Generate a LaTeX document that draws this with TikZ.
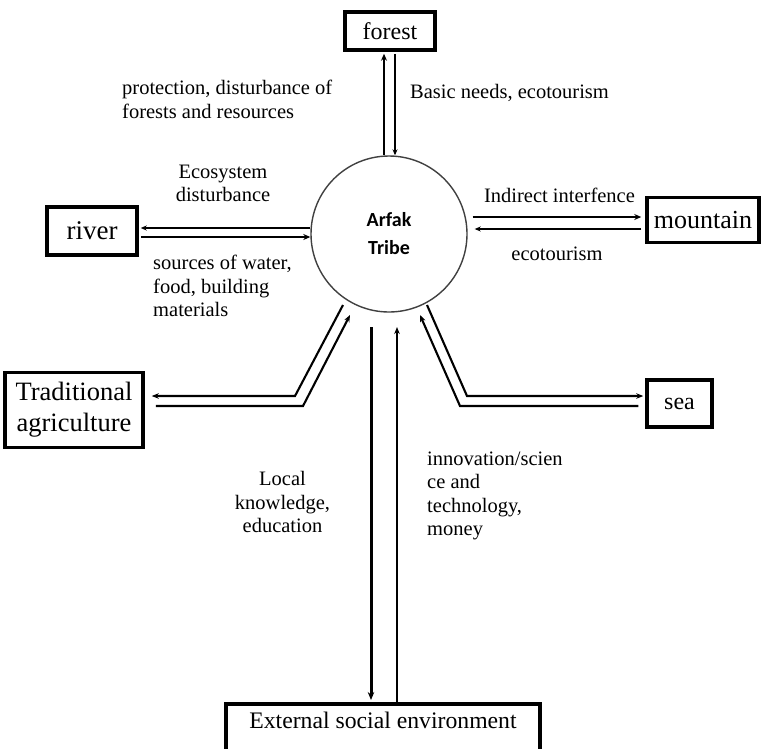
\documentclass[tikz,border=0pt]{standalone}
\usepackage{fontspec}
\setmainfont{Liberation Serif}
\newfontfamily\calfont{Carlito}
\usetikzlibrary{arrows.meta,calc}
\newcommand{\fsz}[1]{\fontsize{#1}{1.2\dimexpr#1pt\relax}\selectfont}
\begin{document}
\begin{tikzpicture}[x=1pt,y=-1pt,
 box/.style={draw,line width=3.5pt,inner sep=0pt,align=center},
 lbl/.style={font=\fontsize{20.5}{23.5}\selectfont,inner sep=0pt},
 thk/.style={line width=2.6pt,-{Stealth[length=7pt,width=6pt]}},
 thn/.style={line width=1.4pt,-{Stealth[length=6pt,width=5pt]}},
 mid/.style={line width=2.1pt,-{Stealth[length=7pt,width=5.5pt]}}]
\useasboundingbox (0,0) rectangle (762,748);
\fill[white] (0,0) rectangle (762,748);

\node[circle,draw=black!75,line width=1.4pt,minimum size=156pt,inner sep=0pt,align=center,
  font=\calfont\bfseries\fontsize{20}{28}\selectfont] (tribe) at (389,234) {Arfak\\Tribe};

\node[box,minimum width=90pt,minimum height=38pt,font=\fontsize{24}{28}\selectfont] (forest) at (390,31) {forest};
\node[box,minimum width=90pt,minimum height=48pt,font=\fontsize{27}{30}\selectfont] (river) at (92,231) {river};
\node[box,minimum width=112pt,minimum height=45pt,font=\fontsize{26}{30}\selectfont] (mountain) at (703,220) {mountain};
\node[box,minimum width=138pt,minimum height=75pt,font=\fontsize{26.5}{31}\selectfont] (agri) at (74,410) {Traditional\\agriculture};
\node[box,minimum width=65pt,minimum height=47pt,font=\fontsize{24}{28}\selectfont] (sea) at (679.5,403.5) {sea};
\node[box,anchor=north,minimum width=314pt,text height=25pt,text depth=40pt,font=\fontsize{23.7}{28}\selectfont] (ext) at (383,702) {External social environment};

% forest
\draw[thk,shorten >=2pt] ([xshift=-5pt]tribe.north) -- ([xshift=-5pt]tribe.north |- forest.south);
\draw[thn,shorten <=2pt] ([xshift=5pt]forest.south) -- ([xshift=5pt]forest.south |- tribe.north);

% river
\coordinate (rA) at ($(tribe.west)+(0,-6)$);
\coordinate (rB) at ($(tribe.west)+(0,3)$);
\draw[thn,shorten >=2pt] (rA) -- (rA -| river.east);
\draw[thk,shorten <=2pt] (rB -| river.east) -- (rB);

% mountain
\coordinate (mA) at ($(tribe.east)+(5,-17)$);
\coordinate (mB) at ($(tribe.east)+(7,-5)$);
\draw[thk,shorten >=4pt] (mA) -- (mA -| mountain.west);
\draw[thn,shorten <=4pt] (mB -| mountain.west) -- (mB);

% traditional agriculture
\coordinate (a1) at (343,305);
\coordinate (a2) at (295,396);
\coordinate (a3) at (303,406);
\coordinate (a4) at (350,315);
\draw[mid,shorten >=7pt] (a1) -- (a2) -- (a2 -| agri.east);
\draw[mid,shorten <=11pt] (a3 -| agri.east) -- (a3) -- (a4);

% sea
\coordinate (s1) at (427,305);
\coordinate (s2) at (467,396);
\coordinate (s3) at (460,406);
\coordinate (s4) at (420,315);
\draw[mid,shorten >=2pt] (s1) -- (s2) -- (s2 -| sea.west);
\draw[mid,shorten <=7pt] (s3 -| sea.west) -- (s3) -- (s4);

% external social environment
\coordinate (e1) at (371,327);
\coordinate (e2) at (397,327);
\draw[line width=3pt,-{Stealth[length=8pt,width=6.5pt]},shorten >=2pt] (e1) -- (e1 |- ext.north);
\draw[mid] (e2 |- ext.north) -- (e2);

% labels
\node[lbl,anchor=west,align=left] (lprot) at (122,99.5) {protection, disturbance of\\forests and resources};
\node[lbl,anchor=west] (lbasic) at (410,93) {Basic needs, ecotourism};
\node[lbl,align=center] (leco) at (223,183.5) {Ecosystem\\disturbance};
\node[lbl,anchor=west,align=left] (lsrc) at (153,286) {sources of water,\\food, building\\materials};
\node[lbl] (lind) at (559.5,195) {Indirect interfence};
\node[lbl] (leco2) at (557,254) {ecotourism};
\node[lbl,align=center] (lloc) at (282.5,502) {Local\\knowledge,\\education};
\node[lbl,anchor=west,align=left] (linn) at (427,496) {innovation/scien\\ce and\\technology,\\money};
\end{tikzpicture}
\end{document}
